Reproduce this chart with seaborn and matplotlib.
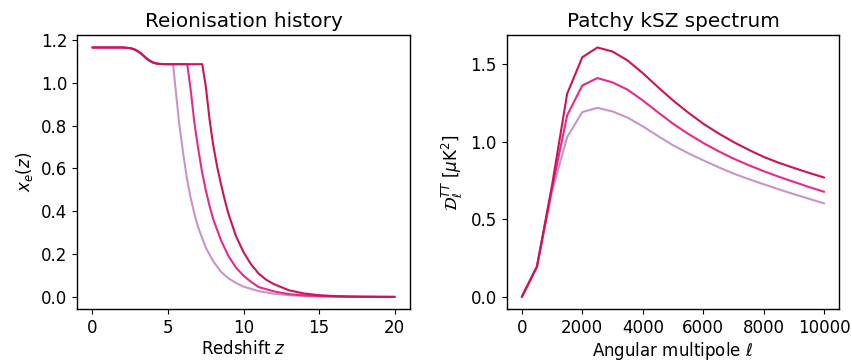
import numpy as np
import pandas as pd
import matplotlib
matplotlib.use("Agg")
import matplotlib.pyplot as plt
from matplotlib.ticker import MultipleLocator
import seaborn as sns

# helium second reionisation step (shared by all three models)
z_he = [0, 1, 2, 2.5, 2.75, 3.0, 3.25, 3.5, 3.75, 4.0, 4.25, 4.5, 5.0]
xe_he = [1.165, 1.165, 1.165, 1.162, 1.157, 1.148, 1.135, 1.119, 1.105, 1.095, 1.090, 1.088, 1.087]

# hydrogen reionisation tails
z_early = [5.34, 5.4, 5.5, 5.625, 5.75, 5.875, 6.0, 6.25, 6.5, 6.75, 7.0, 7.5, 8.0, 8.5, 9.0, 9.5, 10,
           11, 12, 13, 14, 15, 16, 17, 18, 19, 20]
xe_early = [1.087, 1.043, 0.974, 0.890, 0.805, 0.740, 0.673, 0.555, 0.463, 0.388, 0.325, 0.230, 0.166,
            0.118, 0.087, 0.065, 0.048, 0.027, 0.015, 0.008, 0.004, 0.002, 0.001, 0.0005, 0.0002,
            0.0001, 0.0]

z_mid = [6.28, 6.35, 6.5, 6.625, 6.75, 6.875, 7.0, 7.25, 7.5, 7.75, 8.0, 8.5, 9.0, 9.5, 10, 10.5, 11,
         12, 13, 14, 15, 16, 17, 18, 19, 20]
xe_mid = [1.087, 1.048, 0.969, 0.890, 0.813, 0.751, 0.693, 0.585, 0.499, 0.425, 0.362, 0.266, 0.191,
          0.137, 0.099, 0.070, 0.046, 0.026, 0.013, 0.007, 0.004, 0.002, 0.001, 0.0005, 0.0002, 0.0]

z_late = [7.27, 7.35, 7.5, 7.625, 7.75, 7.875, 8.0, 8.25, 8.5, 8.75, 9.0, 9.5, 10, 10.5, 11, 11.5, 12,
          13, 14, 15, 16, 17, 18, 19, 20]
xe_late = [1.087, 1.050, 0.984, 0.908, 0.830, 0.766, 0.707, 0.609, 0.529, 0.455, 0.388, 0.284, 0.209,
           0.152, 0.109, 0.080, 0.060, 0.031, 0.016, 0.008, 0.004, 0.002, 0.001, 0.0005, 0.0]

# patchy kSZ spectra
ell = [0, 500, 1000, 1500, 2000, 2500, 3000, 3500, 4000, 4500, 5000,
       5500, 6000, 6500, 7000, 7500, 8000, 8500, 9000, 9500, 10000]
dl_early = [0, 0.195, 0.68, 1.030, 1.191, 1.218, 1.195, 1.155, 1.099, 1.037, 0.977,
            0.926, 0.880, 0.836, 0.795, 0.759, 0.726, 0.693, 0.662, 0.632, 0.602]
dl_mid = [0, 0.195, 0.70, 1.170, 1.362, 1.410, 1.382, 1.335, 1.266, 1.190, 1.116,
          1.051, 0.992, 0.939, 0.891, 0.849, 0.810, 0.774, 0.741, 0.708, 0.677]
dl_late = [0, 0.195, 0.72, 1.309, 1.544, 1.607, 1.581, 1.523, 1.442, 1.352, 1.266,
           1.188, 1.116, 1.054, 0.998, 0.948, 0.902, 0.864, 0.831, 0.799, 0.769]

models = ["early", "mid", "late"]
colors = ["#c994c7", "#e7298a", "#ce1256"]

sns.set_style("ticks")
plt.rcParams["font.size"] = 12
plt.rcParams["axes.titlesize"] = 14.4
plt.rcParams["axes.labelsize"] = 12
plt.rcParams["xtick.labelsize"] = 12
plt.rcParams["ytick.labelsize"] = 12
plt.rcParams["text.color"] = "black"
plt.rcParams["axes.labelcolor"] = "black"
plt.rcParams["xtick.color"] = "black"
plt.rcParams["ytick.color"] = "black"
plt.rcParams["font.family"] = ["DejaVu Sans"]

# long-form tables
hist = pd.concat([
    pd.DataFrame({"z": z_he + z_early, "xe": xe_he + xe_early, "model": "early"}),
    pd.DataFrame({"z": z_he + z_mid, "xe": xe_he + xe_mid, "model": "mid"}),
    pd.DataFrame({"z": z_he + z_late, "xe": xe_he + xe_late, "model": "late"}),
])
ksz = pd.concat([
    pd.DataFrame({"ell": ell, "dl": dl_early, "model": "early"}),
    pd.DataFrame({"ell": ell, "dl": dl_mid, "model": "mid"}),
    pd.DataFrame({"ell": ell, "dl": dl_late, "model": "late"}),
])

fig = plt.figure(figsize=(8.52, 3.61), dpi=100)
ax1 = fig.add_axes([0.0907, 0.143, 0.481 - 0.0907, 0.903 - 0.143])
ax2 = fig.add_axes([0.5947, 0.143, 0.9851 - 0.5947, 0.903 - 0.143])

sns.lineplot(data=hist, x="z", y="xe", hue="model", hue_order=models, palette=colors,
             estimator=None, sort=False, linewidth=1.5, legend=False, ax=ax1)
ax1.set_title("Reionisation history")
ax1.set_xlabel("Redshift $z$", labelpad=2)
ax1.set_ylabel("$x_e(z)$")
ax1.xaxis.set_major_locator(MultipleLocator(5))
ax1.yaxis.set_major_locator(MultipleLocator(0.2))

sns.lineplot(data=ksz, x="ell", y="dl", hue="model", hue_order=models, palette=colors,
             estimator=None, sort=False, linewidth=1.5, legend=False, ax=ax2)
ax2.set_title("Patchy kSZ spectrum")
ax2.set_xlabel(r"Angular multipole $\ell$", labelpad=2)
ax2.set_ylabel(r"$\mathcal{D}_\ell^{TT}$ [$\mu$K$^2$]")
ax2.xaxis.set_major_locator(MultipleLocator(2000))
ax2.yaxis.set_major_locator(MultipleLocator(0.5))

for ax in (ax1, ax2):
    for s in ax.spines.values():
        s.set_visible(True)
        s.set_color("black")
        s.set_linewidth(1.0)

fig.savefig("out.png", dpi=100)
